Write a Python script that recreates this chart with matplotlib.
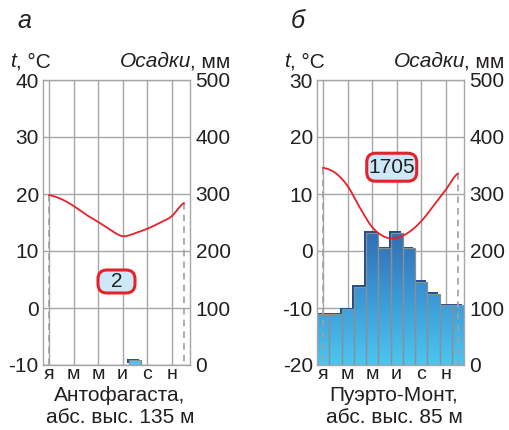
import numpy as np
import matplotlib
matplotlib.use("Agg")
import matplotlib.pyplot as plt
import matplotlib.transforms as mtransforms
from matplotlib.patches import FancyBboxPatch, Rectangle
from matplotlib.colors import LinearSegmentedColormap

plt.rcParams['font.family'] = ['Liberation Sans', 'DejaVu Sans']
plt.rcParams['axes.unicode_minus'] = False

# ---------------- data ----------------
month_labels = ['я', 'м', 'м', 'и', 'с', 'н']   # every second month (Jan, Mar, ...)

temp_a = [19.8, 19.1, 17.9, 16.4, 15.1, 13.7, 12.6, 13.1, 13.9, 14.9, 16.1, 18.4]
prec_a = [0, 0, 0, 0, 0, 0, 0, 8, 0, 0, 0, 0]
total_a = '2'
name_a = 'Антофагаста,'
alt_a = 'абс. выс. 135 м'
tticks_a = [-10, 0, 10, 20, 30, 40]

temp_b = [14.6, 13.7, 11.4, 7.6, 4.2, 2.5, 2.3, 3.3, 5.2, 7.9, 10.7, 13.6]
prec_b = [89, 89, 98, 137, 232, 205, 232, 205, 146, 125, 105, 105]
total_b = '1705'
name_b = 'Пуэрто-Монт,'
alt_b = 'абс. выс. 85 м'
tticks_b = [-20, -10, 0, 10, 20, 30]

pticks = [0, 100, 200, 300, 400, 500]

W, H = 509, 430
fig = plt.figure(figsize=(W / 100, H / 100), dpi=100)
renderer = fig.canvas.get_renderer()

TXT = '#231f20'
GRID = '#a6a6a6'
RED = '#e5222b'


def fx(px):
    return px / W


def fy(py):
    return 1 - py / H


def smooth(xs, ys, n=20):
    xs = np.asarray(xs, float)
    ys = np.asarray(ys, float)
    px = np.concatenate([[2 * xs[0] - xs[1]], xs, [2 * xs[-1] - xs[-2]]])
    py = np.concatenate([[ys[0]], ys, [ys[-1]]])
    ox, oy = [], []
    for i in range(1, len(px) - 2):
        t = np.linspace(0, 1, n, endpoint=False)
        p0, p1, p2, p3 = py[i - 1], py[i], py[i + 1], py[i + 2]
        yy = 0.5 * ((2 * p1) + (-p0 + p2) * t + (2 * p0 - 5 * p1 + 4 * p2 - p3) * t ** 2
                    + (-p0 + 3 * p1 - 3 * p2 + p3) * t ** 3)
        xx = px[i] + (px[i + 1] - px[i]) * t
        ox.extend(xx)
        oy.extend(yy)
    ox.append(xs[-1])
    oy.append(ys[-1])
    return np.array(ox), np.array(oy)


grad_cmap = LinearSegmentedColormap.from_list('g', ['#4cc6f2', '#3b98d6', '#2f6cb2'])
grad = np.linspace(0, 1, 256).reshape(-1, 1)


def panel(left_px, temps, precs, tticks, total, box_xy, box_wh, name, alt, letter):
    rect = [fx(left_px), fy(365), 147 / W, 285 / H]
    ax2 = fig.add_axes(rect)
    ax1 = fig.add_axes(rect, sharex=ax2)
    ax1.set_zorder(3)
    ax2.set_zorder(1)
    ax1.patch.set_visible(False)
    ax2.set_facecolor('white')

    tmin, tmax = tticks[0], tticks[-1]
    ax1.set_ylim(tmin, tmax)
    ax2.set_ylim(0, 500)
    ax2.set_xlim(0, 12)

    # grid on lower axes
    ax2.set_axisbelow(True)
    ax2.set_xticks([0, 3, 6, 9, 12])
    ax2.set_yticks(pticks)
    ax2.grid(True, color=GRID, lw=1.0)
    for s in ax2.spines.values():
        s.set_color(GRID)
        s.set_linewidth(1.0)
    for s in ax1.spines.values():
        s.set_visible(False)

    # right tick labels
    ax2.yaxis.tick_right()
    ax2.tick_params(axis='y', length=0, pad=4, labelsize=15, colors=TXT)
    ax2.set_yticklabels([str(v) for v in pticks])
    ax2.tick_params(axis='x', length=0, labelbottom=False)

    # left tick labels
    ax1.set_yticks(tticks)
    ax1.set_yticklabels([str(v) for v in tticks])
    ax1.tick_params(axis='y', length=0, pad=3, labelsize=15, colors=TXT)
    ax1.set_xticks([0.5, 2.5, 4.5, 6.5, 8.5, 10.5])
    ax1.set_xticklabels(month_labels)
    ax1.tick_params(axis='x', length=0, pad=0.5, labelsize=14, colors=TXT)

    # bars
    months = np.arange(12) + 0.5
    shadow_tr = mtransforms.offset_copy(ax2.transData, fig=fig, x=-1.6, y=1.6, units='dots')
    for m, v in zip(months, precs):
        if v <= 0:
            continue
        ax2.add_patch(Rectangle((m - 0.5, 0), 1.0, v, transform=shadow_tr,
                                facecolor='#1c4f8c', lw=0, zorder=1.8))
    bars = ax2.bar(months, precs, width=1.0, facecolor='none', edgecolor='#8e8e8e',
                   linewidth=0.9, zorder=2.5)
    for r, v in zip(bars, precs):
        if v <= 0:
            continue
        x0 = r.get_x()
        im = ax2.imshow(grad, cmap=grad_cmap, origin='lower', aspect='auto',
                        extent=(x0, x0 + 1.0, 0, 240), zorder=2.0, interpolation='bilinear')
        im.set_clip_path(r)
    ax2.set_xlim(0, 12)
    ax2.set_ylim(0, 500)

    # dashed guides
    for m, t in ((months[0], temps[0]), (months[-1], temps[-1])):
        ax1.plot([m, m], [t, tmin], color='#a0a0a0', lw=1.2, ls=(0, (4, 3)), zorder=3)

    # temperature curve
    sx, sy = smooth(months, temps)
    ax1.plot(sx, sy, color=RED, lw=1.3, zorder=4)

    # total precipitation box
    bx, by = box_xy
    bw, bh = box_wh
    btr = fig.dpi_scale_trans + mtransforms.ScaledTranslation(bx, by, ax1.transData)
    ax1.add_patch(FancyBboxPatch((-bw / 200, -bh / 200), bw / 100, bh / 100,
                                 boxstyle='round,pad=0,rounding_size=0.09',
                                 transform=btr, facecolor='#cde9f8', edgecolor=RED,
                                 lw=2.2, zorder=5, clip_on=False))
    ax1.text(bx, by, total, ha='center', va='center', fontsize=15, color=TXT, zorder=6)
    ax1.set_xlim(0, 12)
    ax1.set_ylim(tmin, tmax)

    # header texts
    fig.text(fx(left_px - 26), fy(21), letter, style='italic', fontsize=18, color=TXT,
             va='center', ha='left')
    t1 = fig.text(fx(left_px - 33), fy(67), 't', style='italic', fontsize=15, color=TXT,
                  va='baseline', ha='left')
    bb = t1.get_window_extent(renderer)
    fig.text(bb.x1 / W, fy(67), ', °C', fontsize=15, color=TXT, va='baseline', ha='left')
    t2 = fig.text(fx(left_px + 187), fy(67), ', мм', fontsize=15, color=TXT,
                  va='baseline', ha='right')
    bb2 = t2.get_window_extent(renderer)
    fig.text((bb2.x0 + 2) / W, fy(67), 'Осадки', style='italic', fontsize=15, color=TXT,
             va='baseline', ha='right')

    # station
    cx = left_px + 77
    fig.text(fx(cx), fy(401), name, fontsize=15, color=TXT, ha='center', va='baseline')
    fig.text(fx(cx), fy(423), alt, fontsize=15, color=TXT, ha='center', va='baseline')
    return ax1, ax2


panel(43, temp_a, prec_a, tticks_a, total_a, (6.0, 4.65), (37, 23), name_a, alt_a, 'а')
panel(317, temp_b, prec_b, tticks_b, total_b, (6.1, 14.7), (50, 28), name_b, alt_b, 'б')

fig.savefig('out.png', dpi=100, facecolor='white')
